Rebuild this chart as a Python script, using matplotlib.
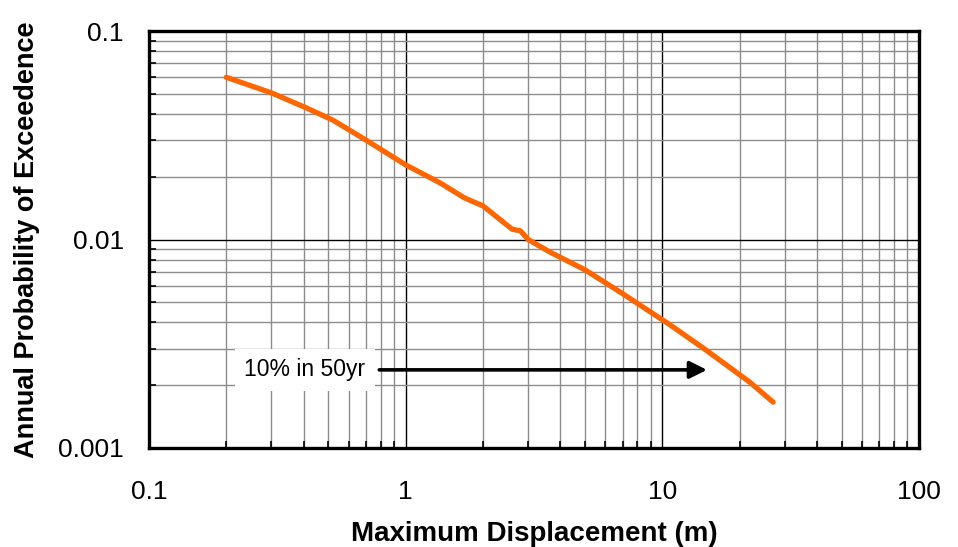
import numpy as np
import matplotlib.pyplot as plt
from matplotlib.ticker import LogLocator, FixedLocator, NullFormatter

plt.rcParams['font.family'] = ['Liberation Sans', 'DejaVu Sans']

# values
displacement = [0.2, 0.3, 0.41, 0.52, 0.7, 1.0, 1.36, 1.7, 2.0, 2.6, 2.8, 3.0, 3.65, 5.0, 7.0, 10.7, 14.4, 21.9, 27.0]
probability = [0.060, 0.0505, 0.0428, 0.0374, 0.030, 0.0228, 0.0187, 0.0158, 0.0145, 0.0112, 0.0110,
               0.0100, 0.0087, 0.00715, 0.0055, 0.0039, 0.00302, 0.00207, 0.00166]

arrow_y = 0.00237
arrow_x0, arrow_x1 = 0.77, 15.3
label_x = 0.405

fig = plt.figure(figsize=(9.58, 5.47), dpi=100)
ax = fig.add_axes([0.1555, 0.181, 0.8038, 0.7623])

ax.plot(displacement, probability, color='#FF6600', lw=3.8, solid_capstyle='round', zorder=3)

ax.set_xscale('log')
ax.set_yscale('log')
ax.set_xlim(0.1, 100)
ax.set_ylim(0.001, 0.1)

ax.xaxis.set_major_locator(FixedLocator([0.1, 1, 10, 100]))
ax.yaxis.set_major_locator(FixedLocator([0.001, 0.01, 0.1]))
ax.xaxis.set_minor_locator(LogLocator(base=10, subs=np.arange(2, 10)))
ax.yaxis.set_minor_locator(LogLocator(base=10, subs=np.arange(2, 10)))
ax.xaxis.set_minor_formatter(NullFormatter())
ax.yaxis.set_minor_formatter(NullFormatter())
ax.set_xticklabels(['0.1', '1', '10', '100'])
ax.set_yticklabels(['0.001', '0.01', '0.1'])

ax.grid(which='minor', color='#8c8c8c', lw=1.0)
ax.grid(which='major', color='black', lw=1.0)
ax.set_axisbelow(True)

ax.tick_params(which='both', direction='in', labelsize=19, top=False, right=False)
ax.tick_params(axis='x', which='major', length=0, pad=23)
ax.tick_params(axis='y', which='major', length=0, pad=18)
ax.tick_params(which='minor', length=5, width=1.2)
for s in ax.spines.values():
    s.set_linewidth(2.4)

ax.set_xlabel('Maximum Displacement (m)', fontsize=20, fontweight='bold', labelpad=12)
ax.set_ylabel('Annual Probability of Exceedence', fontsize=19.5, fontweight='bold', labelpad=13)

ax.annotate('', xy=(arrow_x1, arrow_y), xytext=(arrow_x0, arrow_y),
            arrowprops=dict(arrowstyle='-|>', color='black', lw=2.6, mutation_scale=26), zorder=4)
ax.text(label_x, arrow_y, '10% in 50yr', fontsize=16.5, ha='center', va='center',
        bbox=dict(facecolor='white', edgecolor='none', pad=7), zorder=5)

fig.savefig('out.png', dpi=100)
